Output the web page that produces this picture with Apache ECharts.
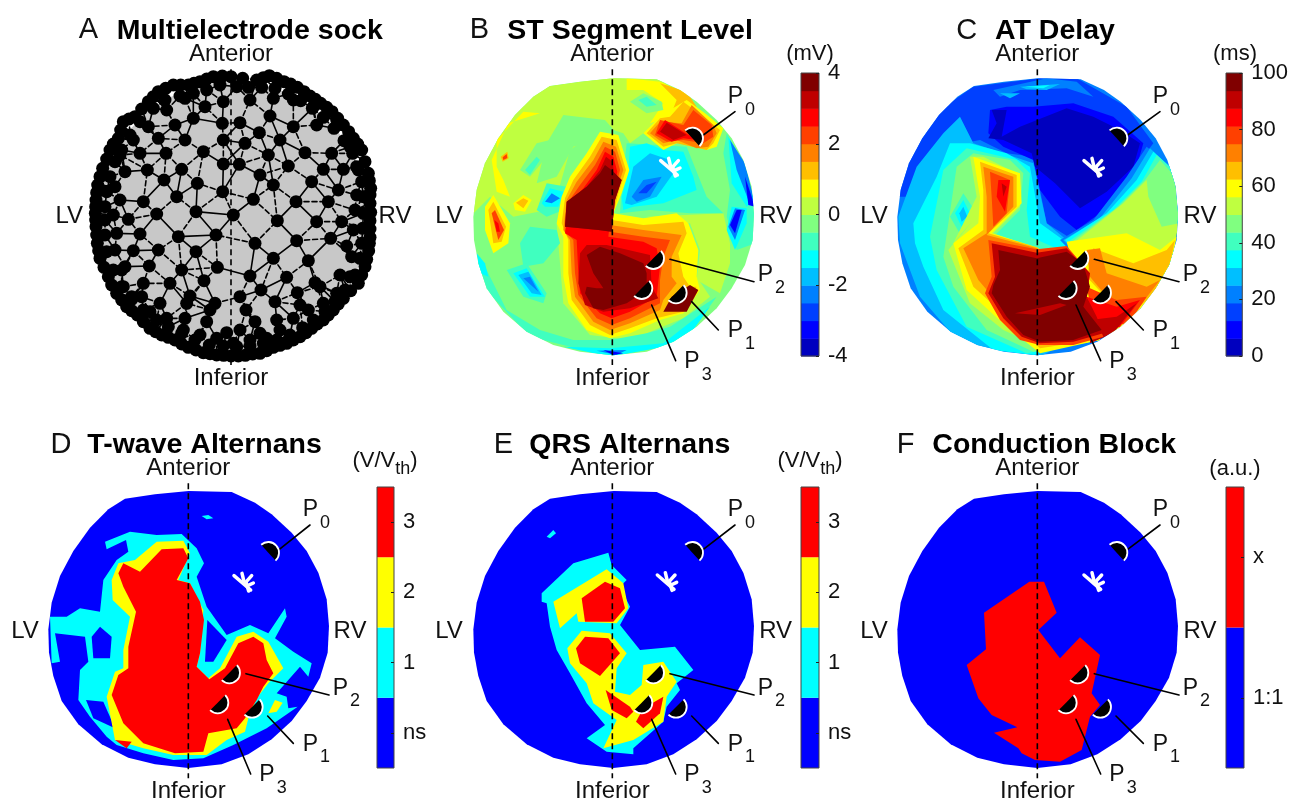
<!DOCTYPE html>
<html><head><meta charset="utf-8">
<style>html,body{margin:0;background:#fff}#c{width:1291px;height:802px}</style>
<script src="https://cdn.jsdelivr.net/npm/echarts@6/dist/echarts.min.js"></script></head>
<body><div id="c"></div>
<script>
// ---- colours ----
const jet16=['#0000bf','#0000ff','#0040ff','#0080ff','#00bfff','#00ffff','#40ffbf','#80ff80','#bfff40','#ffff00','#ffbf00','#ff8000','#ff4000','#ff0000','#bf0000','#800000'];
const altColours=['#0000ff','#00ffff','#ffff00','#ff0000'];
const blockColours=['#0000ff','#ff0000'];
// ---- colour bar scales ----
const stBands=[-4,-3.5,-3,-2.5,-2,-1.5,-1,-0.5,0,0.5,1,1.5,2,2.5,3,3.5,4];
const atBands=[0,6.25,12.5,18.75,25,31.25,37.5,43.75,50,56.25,62.5,68.75,75,81.25,87.5,93.75,100];
const altLabels=['ns','1','2','3'];
const blockLabels=['1:1','x'];
// ---- heart outline, map units of panel B ----
const rim=[551,205,680,208,750,240,800,275,860,330,905,385,940,450,965,530,972,610,968,690,945,765,905,835,860,895,800,950,730,995,650,1025,550,1036,450,1025,370,1005,290,965,220,905,170,835,145,760,132,690,130,620,140,540,165,460,205,385,255,315,310,260,360,228,450,215];
// ---- sock electrodes ----
const electrodes=[[520,615],[408,605],[468,675],[488,545],[580,568],[585,700],[355,680],[408,725],[472,772],[570,798],[640,745],[710,692],[652,632],[708,575],[640,525],[600,495],[538,463],[490,462],[412,520],[365,478],[350,560],[312,510],[290,612],[295,720],[240,672],[250,575],[205,628],[220,722],[268,768],[365,780],[432,812],[330,820],[250,820],[195,770],[390,858],[465,880],[540,860],[603,840],[680,802],[745,752],[770,635],[805,575],[845,635],[812,685],[860,708],[840,795],[765,818],[712,848],[645,875],[558,900],[500,968],[585,935],[440,935],[375,925],[300,880],[245,860],[190,830],[490,390],[430,425],[375,390],[318,430],[262,480],[195,485],[240,430],[295,385],[345,345],[400,325],[487,340],[540,338],[555,400],[625,435],[685,468],[735,428],[660,390],[598,368],[630,318],[700,350],[770,345],[790,478],[755,515],[815,430],[850,478],[835,540],[890,555],
[513,200],[460,200],[548,205],[590,210],[628,197],[672,215],[712,232],[750,258],[782,280],[816,305],[850,345],[880,385],[905,420],[925,490],[932,535],[930,580],[930,632],[930,682],[926,722],[915,770],[895,820],[850,865],[820,900],[790,930],[755,955],[720,980],[680,1000],[640,1012],[600,1030],[556,1036],[513,1038],[470,1035],[430,1028],[385,1012],[345,990],[305,975],[270,955],[232,915],[200,890],[170,850],[145,800],[120,745],[112,700],[108,650],[106,610],[108,570],[113,525],[128,475],[150,420],[175,385],[190,335],[225,320],[265,275],[295,245],[340,225],[385,225],[420,215],
[487,198],[610,203],[650,205],[692,222],[732,245],[766,268],[800,292],[833,325],[866,365],[893,402],[915,455],[928,512],[930,555],[932,607],[930,657],[928,700],[920,748],[905,795],[872,842],[835,882],[805,915],[772,942],[738,968],[700,990],[660,1006],[620,1022],[578,1032],[535,1038],[491,1036],[450,1031],[408,1020],[365,1002],[325,982],[287,965],[250,935],[215,902],[185,870],[155,825],[132,772],[116,722],[110,675],[107,630],[107,590],[110,548],[120,500],[140,447],[160,402],[182,360],[207,327],[245,297],[280,260],[317,235],[362,225],[402,220],[440,207],
[530,230],[565,232],[605,232],[645,235],[685,252],[722,272],[757,295],[790,322],[822,355],[852,392],[878,430],[895,480],[905,515],[910,560],[910,610],[908,655],[905,700],[900,745],[885,795],[855,840],[825,875],[795,905],[760,930],[728,953],[690,975],[650,990],[610,1000],[570,1008],[530,1010],[490,1008],[448,1005],[405,990],[365,970],[325,950],[290,930],[250,900],[215,868],[185,830],[160,780],[140,725],[135,675],[135,630],[135,590],[140,545],[150,500],[165,455],[185,420],[210,375],[240,335],[280,295],[315,270],[360,258],[400,250],[440,240],[480,225],
[490,275],[570,270],[435,290],[375,265],[320,300],[640,265],[700,270],[760,290],[830,330],[870,410],[180,435],[220,390],[265,350],[165,530],[180,570],[160,615],[170,670],[165,720],[185,780],[215,860],[890,470],[885,600],[880,660],[875,740],[870,800],[830,850],[790,880],[745,900],[700,925],[660,960],[620,985],[570,990],[520,1000],[470,985],[420,975],[370,960],[320,925],[270,905],[720,885],[650,930],[600,970],[540,960],[450,900],[380,880],[780,830]];
// ---- ST segment contours: [band, x,y,...] painted in order ----
const stContours=[
[7,0,0,1300,0,1300,1200,0,1200],
[8,120,480,240,300,340,230,560,200,700,210,760,300,700,340,640,370,600,400,580,370,520,350,420,420,380,560,350,600,250,620,180,560,120,620],
[7,400,315,525,330,560,370,430,410,380,500,320,520,350,400],
[8,650,620,880,610,900,700,900,760,870,850,800,810,810,720,780,640],
[8,380,640,400,880,480,975,600,990,760,925,840,860,800,800,600,700],
[7,270,480,320,400,360,390,350,440,300,500],[6,285,480,320,440,330,450,300,495],
[6,270,700,300,650,380,660,390,700,340,760,280,770],
[9,330,310,280,305,200,390,200,470,220,510,240,560,200,545,185,450,235,340],
[10,212,440,232,425,236,445,218,455],[12,218,442,230,432,232,444,220,450],
[9,165,590,190,555,240,640,235,700,190,730,165,660],[10,175,600,190,575,228,650,215,695,190,700],[12,185,610,195,600,222,660,205,690],[13,193,630,205,640,210,665,200,665],
[9,250,580,280,555,305,570,285,605,255,600],[10,258,578,280,565,295,572,280,595],
[6,320,600,350,520,410,530,400,600,350,620],[5,335,580,360,535,400,545,385,590,345,590],[3,345,575,365,550,390,565,365,580],
[6,590,400,770,410,830,560,880,610,780,610,660,600,570,610,575,540],
[5,600,410,650,400,700,420,760,425,790,500,800,540,700,580,610,590,580,600,575,560,595,490],
[4,610,470,660,430,720,450,730,490,680,560,605,585,585,580],
[3,605,560,640,510,695,500,660,560,620,575],[2,625,550,650,525,680,515,650,550],
[9,590,205,690,215,770,250,720,320,660,340,700,280,640,240,590,240],
[10,690,220,770,245,800,290,720,320,740,270],
[7,600,275,640,250,695,275,700,300,650,310],[6,625,270,650,260,680,285,650,290],
[9,640,370,690,320,720,300,770,270,825,310,880,355,860,410,830,420,760,390,700,420],
[10,650,370,690,325,720,320,760,275,820,320,870,360,850,400,830,420,740,400,700,410],
[11,660,370,690,335,755,340,785,285,850,345,860,370,835,410,800,415,740,390,700,400],
[12,675,375,690,330,760,345,790,300,845,345,850,380,820,400,760,390,710,395],
[13,680,370,705,330,760,365,800,390,760,385,725,395],[14,690,365,710,338,770,375,730,390],
[6,890,370,930,440,970,560,975,700,920,720,890,620,900,540,880,430],
[5,895,380,935,450,972,570,950,590,905,520],[3,900,390,945,460,972,570,955,570,920,480],[1,945,500,975,590,955,585],
[5,890,660,905,590,950,595,950,640,915,720],[3,895,650,915,595,945,600,915,690],[1,900,645,920,600,935,600,915,670],
[6,150,740,230,900,330,960,430,990,540,990,650,970,720,950,860,860,760,1000,540,1040,300,980,130,800],
[5,400,1010,540,1015,700,1000,840,890,760,1000,540,1040],[3,500,1022,590,1020,560,1035],[1,520,1020,580,1030,550,1035],
[5,140,730,165,760,175,800,150,790],
[6,230,780,290,760,350,850,340,880,280,860],[5,250,790,290,775,345,860,300,860],[4,265,795,295,785,335,855,305,850],[3,280,805,300,800,325,845],
[9,510,365,565,375,598,480,575,550,550,610,640,625,740,610,775,640,805,720,800,800,810,840,760,910,690,930,600,970,540,985,470,960,415,880,400,800,400,680,380,640,395,560,420,500,470,430],
[10,515,380,560,390,588,480,565,550,545,630,640,645,760,635,770,670,745,730,760,800,780,830,800,830,760,905,680,925,600,955,540,975,480,945,425,870,415,790,415,690,395,640,405,565,430,510,480,440],
[11,520,395,558,410,580,480,555,555,540,645,640,660,755,675,725,740,725,800,740,820,700,870,690,900,600,940,540,960,490,935,435,860,425,790,420,690,400,660,410,570,440,515,490,450],
[12,525,410,555,425,570,480,550,560,540,665,640,680,720,690,700,740,690,810,690,880,600,925,545,945,500,925,445,855,435,790,430,690,405,665,415,575,450,525,495,465],
[13,525,425,550,440,562,485,548,565,535,680,640,695,680,715,690,770,680,860,600,905,545,925,510,910,450,850,445,790,440,690,405,670,420,580,460,535,500,480],
[14,528,440,548,455,552,490,575,510,555,570,545,665,505,660,405,650,410,575,470,530,510,480],
[14,470,705,530,705,660,735,665,830,685,865,600,895,520,905,465,885,445,820,450,730],
[15,525,465,545,480,575,510,555,570,545,665,505,660,405,650,410,575,470,530,510,490],
[15,470,735,510,710,570,730,640,760,650,790,650,830,620,860,590,880,520,900,490,895,465,850,470,830,500,835,520,835,490,790],
[15,700,905,725,860,780,825,805,840,770,905]];
// ---- activation delay contours ----
const atContours=[
[3,0,0,1300,0,1300,1200,0,1200],
[2,110,560,150,440,240,300,340,230,540,205,650,205,800,290,880,400,700,640,640,690,560,640,520,440,440,430,360,390,310,400,240,450,170,560],
[3,400,240,560,205,650,215,700,260,620,235,480,240,420,260],[4,480,230,600,222,560,240,500,238],[5,495,230,570,225,550,235],[4,420,250,480,250,450,265],
[1,390,300,440,290,520,290,640,280,760,320,850,400,830,470,720,610,650,660,600,620,540,540,520,450,430,410,385,370],
[0,395,300,440,300,425,380,480,350,620,295,700,320,780,360,840,400,820,470,740,545,660,595,585,520,525,470,515,430,430,390,385,385,410,340],
[4,115,620,170,470,250,370,300,320,340,400,520,460,560,640,620,690,660,780,800,900,540,1040,300,1000,180,860,120,700],
[5,160,640,230,500,270,400,330,400,440,430,510,470,540,640,610,690,660,780,760,960,520,1035,400,1020,250,900,190,770,165,700],
[6,210,680,250,480,320,415,470,450,510,490,500,600,510,680,600,720,640,800,720,990,500,1030,320,950,230,780],
[7,265,640,290,470,340,430,450,450,490,490,480,600,400,680,530,720,660,800,720,990,520,1025,380,960,280,830,250,740],
[6,270,620,310,550,350,610,305,680],[5,285,610,310,570,335,620,305,650],[4,298,610,310,590,322,620,305,635],
[8,280,700,350,560,330,440,370,440,470,490,480,590,400,670,530,715,660,800,720,990,560,1020,430,960,330,880,265,720,340,630],
[9,340,440,480,490,485,580,395,670,530,712,660,800,720,990,540,1030,440,950,320,840,280,700,355,640,360,560],
[10,360,455,470,495,470,590,385,670,530,712,660,800,700,990,540,1015,450,930,340,830,295,715,370,660,370,540],
[11,370,470,460,500,460,590,380,675,530,715,660,800,700,980,540,1005,440,910,355,810,310,715,380,670,380,560],
[12,390,485,450,510,440,610,400,650,395,560],[13,415,510,450,510,435,605,410,560],[14,425,520,440,530,430,560],
[3,600,690,700,630,800,500,860,410,940,480,955,620,930,800,800,900],
[4,610,690,720,625,815,505,870,415,940,480,955,620,930,800,800,900],
[5,615,690,740,610,830,510,880,425,940,480,955,620,930,800,800,900],
[6,625,695,760,600,845,515,890,435,940,480,955,620,930,800,800,900],
[7,630,700,775,590,855,510,900,450,945,500,955,620,930,800,800,900],
[8,640,700,790,580,860,510,865,560,905,650,955,640,930,800,800,900],
[9,620,695,800,670,900,720,950,680,920,810,800,950,700,990],
[10,700,715,820,760,920,720,945,690,920,810,800,930,680,800],
[11,680,720,720,715,740,790,860,830,900,810,830,900,740,860,690,800],
[12,680,830,770,870,860,860,800,950,720,900,690,880],[13,680,860,770,890,840,870,780,950,700,980],[14,690,930,770,920,830,880,760,970,690,1000],
[12,385,690,530,718,620,708,690,790,680,860,730,980,640,1005,540,1005,480,990,420,930,375,850,395,800],
[14,395,700,530,728,620,715,690,790,680,860,710,920,730,970,640,995,540,1000,485,980,430,925,385,850,405,800],
[15,415,720,530,745,620,725,655,750,675,780,690,830,670,890,725,960,640,990,540,995,490,975,440,920,395,850,400,825,420,780],
[14,465,910,600,880,620,885,540,915]];
// ---- alternans and block regions ----
const twaContours=[
[0,0,0,1300,0,1300,1200,0,1200],
[1,605,288,625,285,640,295,620,298],
[1,315,365,390,335,470,345,545,342,590,385,612,430,590,470,620,560,680,645,750,615,805,640,855,565,860,590,825,655,880,695,935,730,925,770,900,740,865,780,830,820,860,830,865,865,893,860,800,925,700,975,610,1015,520,1020,430,1000,350,975,320,950,270,890,235,840,240,750,265,725,255,650,165,640,180,725,155,730,150,590,200,590,240,565,300,575,310,480,350,420,385,395,378,360,320,388],
[0,275,650,300,620,335,650,330,715,280,715],[0,258,840,310,845,345,925,280,895],[0,622,600,680,660,640,725,615,725],
[2,320,830,345,755,370,745,370,690,390,590,338,540,335,480,355,430,405,420,470,365,550,362,570,400,535,480,570,490,610,570,600,700,590,740,625,775,660,745,710,650,760,635,805,665,850,745,805,790,770,835,745,895,735,935,680,960,620,1005,520,1005,430,985,345,960],
[2,805,880,825,840,848,848,830,875],
[3,485,388,550,385,565,415,530,480,570,490,600,545,612,600,600,700,590,740,628,778,675,745,715,670,760,650,790,670,800,720,820,760,790,800,770,840,735,895,710,925,625,940,610,995,525,1000,430,970,370,910,335,825,355,765,385,745,385,680,408,575,370,500,355,460,370,430,420,455],
[3,345,960,395,965,380,985]];
const qrsContours=[
[0,0,0,1300,0,1300,1200,0,1200],
[1,350,350,370,330,378,340,360,355],
[1,335,520,430,430,535,398,545,435,590,480,570,500,600,560,570,615,630,690,735,680,790,750,740,790,750,810,710,860,700,905,610,985,610,1003,530,995,470,955,525,915,470,850,420,760,380,690,360,620,350,550,335,545],
[2,370,545,530,448,580,490,595,565,560,610,445,605,440,580,390,625],
[3,455,535,525,485,570,505,585,565,550,605,465,605],
[2,412,685,455,632,540,640,590,700,560,745,555,815,600,825,635,795,640,735,700,725,740,785,710,830,700,905,610,960,520,985,560,900,490,850,470,790,420,730],
[3,438,685,465,650,535,655,570,700,510,768,450,730],
[3,527,810,600,860,610,875,590,895,545,870],[3,618,905,640,865,700,830,690,880,640,925]];
const blockContours=[
[0,0,0,1300,0,1300,1200,0,1200],
[1,508,485,552,485,590,578,535,630,600,715,660,652,720,705,695,820,720,855,690,890,665,990,600,1025,525,1020,485,1000,475,985,402,938,472,922,395,885,355,835,320,735,378,688,372,578]];
// ---- pacing sites: centre and start angle in degrees ----
const sites=[[787,385,-132],[738,848,-45],[670,745,-45],[635,835,-45]];
const siteLabels=[['0',915,255],['1',915,958],['2',1005,790],['3',785,1050]];
const leaders=[[820,375,915,305],[785,875,865,960],[720,748,972,815],[665,885,737,1052]];
const asterisk=[[692,452,742,495],[716,445,722,470],[745,452,727,472],[750,474,733,482],[728,472,736,498]];

const FONT='"Liberation Sans",Arial,sans-serif', INK='#111';
const panels=[
 {crop:[60,10,350,390],letter:'A',lx:85,ly:60,title:'Multielectrode sock',tx:170,ty:62,line:[513,178,1065],ant:[513,132],inf:[513,1105],lv:[28,620],rv:[1005,620]},
 {crop:[430,10,430,390],letter:'B',lx:148,ly:60,title:'ST Segment Level',tx:232,ty:62,line:[547,178,1065],ant:[547,132],inf:[547,1105],lv:[57,620],rv:[1037,620],
  layers:stContours,pal:jet16,rimOff:[0,0],mk:[0,0],lb:[0,0],st:[0,0],unit:['(mV)',1140,133],bar:[801,73,18,283],bands:stBands},
 {crop:[860,10,431,390],letter:'C',lx:320,ly:63,title:'AT Delay',tx:405,ty:62,line:[532,178,1065],ant:[532,132],inf:[532,1105],lv:[42,620],rv:[1020,620],
  layers:atContours,pal:jet16,rimOff:[-18,0],mk:[-17,0],lb:[-15,0],st:[-20,0],unit:['(ms)',1125,133],bar:[1226,73,18,283],bands:atBands},
 {crop:[0,420,430,382],letter:'D',lx:183,ly:75,title:'T-wave Alternans',tx:262,ty:75,line:[565,190,1075],ant:[565,144],inf:[565,1113],lv:[75,633],rv:[1050,633],
  layers:twaContours,pal:altColours,rimOff:[15,8],mk:[18,13],lb:[15,10],st:[10,15],unit:['th',1155,123],bar:[377,487,17,281],cats:altLabels,catPal:altColours},
 {crop:[430,420,430,382],letter:'E',lx:220,ly:75,title:'QRS Alternans',tx:298,ty:75,line:[547,190,1075],ant:[547,144],inf:[547,1113],lv:[57,633],rv:[1037,633],
  layers:qrsContours,pal:altColours,rimOff:[0,8],mk:[0,13],lb:[0,10],st:[-10,13],unit:['th',1140,123],bar:[801,487,18,281],cats:altLabels,catPal:altColours},
 {crop:[860,420,431,382],letter:'F',lx:137,ly:75,title:'Conduction Block',tx:217,ty:75,line:[532,190,1075],ant:[532,144],inf:[532,1113],lv:[42,633],rv:[1020,633],
  layers:blockContours,pal:blockColours,rimOff:[-18,8],mk:[-17,13],lb:[-15,10],st:[-20,13],unit:['(a.u.)',1125,148],bar:[1226,487,18,281],cats:blockLabels,catPal:blockColours}
];

const grid=[],xAxis=[],yAxis=[],series=[];
function flatPts(api,f,dx,dy,start){const o=[];for(let i=start;i<f.length;i+=2)o.push(api.coord([f[i]+dx,f[i+1]+dy]));return o;}
function txt(api,x,y,text,size,opt){const p=api.coord([x,y]);return {type:'text',x:p[0],y:p[1],z2:50,style:Object.assign({text,fill:INK,font:size+'px '+FONT,textAlign:'center',textVerticalAlign:'middle'},opt||{})};}
function lineEl(api,a,b,width,color,dash){const p=api.coord(a),q=api.coord(b);return {type:'line',shape:{x1:p[0],y1:p[1],x2:q[0],y2:q[1]},style:{stroke:color,lineWidth:width,lineDash:dash||null,lineCap:'round'}};}

panels.forEach(P=>{
 const gi=grid.length;
 grid.push({left:P.crop[0],top:P.crop[1],width:P.crop[2],height:P.crop[3],show:false,containLabel:false});
 xAxis.push({gridIndex:gi,type:'value',min:0,max:P.crop[2]*3,show:false});
 yAxis.push({gridIndex:gi,type:'value',min:0,max:P.crop[3]*3,inverse:true,show:false});
 if(P.layers){
  series.push({type:'custom',xAxisIndex:gi,yAxisIndex:gi,silent:true,animation:false,clip:false,z:2,
   data:P.layers.map((l,i)=>[i,0]),
   renderItem(params,api){
    const l=P.layers[params.dataIndex];
    return {type:'polygon',shape:{points:flatPts(api,l,0,0,1)},style:{fill:P.pal[l[0]]},
     clipPath:{type:'polygon',shape:{points:flatPts(api,rim,P.rimOff[0],P.rimOff[1],0)}}};
   }});
 } else {
  // sock: grey ball, mesh links between nearest electrodes, electrodes
  const links=[],seen={};
  electrodes.forEach((e,i)=>{
   electrodes.map((f,j)=>[Math.hypot(e[0]-f[0],e[1]-f[1]),j]).filter(d=>d[1]!==i).sort((a,b)=>a[0]-b[0]).slice(0,5).forEach(d=>{
    const k=Math.min(i,d[1])+'_'+Math.max(i,d[1]);
    if(!seen[k]){seen[k]=1;links.push([i,d[1]]);}
   });
  });
  series.push({type:'custom',xAxisIndex:gi,yAxisIndex:gi,silent:true,animation:false,clip:false,z:2,data:[[0,0]],
   renderItem(params,api){
    const c=api.coord([519,620]),e=api.coord([519+405,620]);
    const kids=[{type:'circle',shape:{cx:c[0],cy:c[1],r:e[0]-c[0]},style:{fill:'#c8c8c8'}}];
    links.forEach((l,i)=>kids.push(lineEl(api,electrodes[l[0]],electrodes[l[1]],1.6,'#000',i%2?[5,3]:null)));
    return {type:'group',children:kids};
   }});
 }
 // dashed midline
 series.push({type:'line',xAxisIndex:gi,yAxisIndex:gi,silent:true,animation:false,symbol:'none',z:3,clip:false,
  data:[[P.line[0],P.line[1]],[P.line[0],P.line[2]]],lineStyle:{color:'#000',width:1.6,type:[6,4]}});
 if(!P.layers){
  series.push({type:'scatter',xAxisIndex:gi,yAxisIndex:gi,silent:true,animation:false,z:4,clip:false,symbolSize:13,
   itemStyle:{color:'#000',opacity:1},data:electrodes});
 }
 // annotations
 series.push({type:'custom',xAxisIndex:gi,yAxisIndex:gi,silent:true,animation:false,clip:false,z:6,data:[[0,0]],
  renderItem(params,api){
   const kids=[];
   kids.push(txt(api,P.lx,P.ly,P.letter,29));
   kids.push(txt(api,P.tx,P.ty,P.title,28.5,{font:'bold 28.5px '+FONT,textAlign:'left',fill:'#000'}));
   kids.push(txt(api,P.ant[0],P.ant[1],'Anterior',24));
   kids.push(txt(api,P.inf[0],P.inf[1],'Inferior',24));
   kids.push(txt(api,P.lv[0],P.lv[1],'LV',24));
   kids.push(txt(api,P.rv[0],P.rv[1],'RV',24));
   if(P.layers){
    const m=P.mk,L=P.lb,S=P.st;
    leaders.forEach(l=>kids.push(lineEl(api,[l[0]+m[0],l[1]+m[1]],[l[2]+L[0],l[3]+L[1]],1.6,'#000')));
    sites.forEach(s=>{
     const c=api.coord([s[0]+m[0],s[1]+m[1]]),r=api.coord([s[0]+m[0]+32,s[1]+m[1]])[0]-c[0];
     const a0=s[2]*Math.PI/180,a1=a0+Math.PI;
     kids.push({type:'sector',shape:{cx:c[0],cy:c[1],r0:0,r:r,startAngle:a0,endAngle:a1,clockwise:true},style:{fill:'#000'}});
     kids.push({type:'arc',shape:{cx:c[0],cy:c[1],r:r,startAngle:a0,endAngle:a1,clockwise:true},style:{stroke:'#fff',lineWidth:1.8,fill:null}});
    });
    asterisk.forEach(a=>kids.push(lineEl(api,[a[0]+S[0],a[1]+S[1]],[a[2]+S[0],a[3]+S[1]],3.5,'#fff')));
    siteLabels.forEach(s=>{
     kids.push(txt(api,s[1]+L[0]-22,s[2]+L[1]+5,'{p|P}{s|'+s[0]+'}',22,{textAlign:'left',
      rich:{p:{font:'23px '+FONT,fill:INK},s:{font:'18px '+FONT,fill:INK,padding:[26,0,0,2]}}}));
    });
    const u=P.unit;
    if(u[0]==='th'){
     kids.push(txt(api,u[1],u[2],'{a|(V/V}{s|th}{a|)}',22,{
      rich:{a:{font:'22px '+FONT,fill:INK},s:{font:'18px '+FONT,fill:INK,padding:[16,0,0,0]}}}));
    } else kids.push(txt(api,u[1],u[2],u[0],22));
   }
   return {type:'group',children:kids};
  }});
 // colour bar
 if(P.bar){
  const g=grid.length,b=P.bar;
  grid.push({left:b[0],top:b[1],width:b[2],height:b[3],show:true,borderColor:'#444',borderWidth:1,backgroundColor:'transparent',z:8});
  const axisLabel={fontFamily:'"Liberation Sans",Arial,sans-serif',fontSize:22,color:INK,margin:9,padding:[6,0,0,0]};
  if(P.bands){
   const lo=P.bands[0],hi=P.bands[16];
   xAxis.push({gridIndex:g,type:'value',min:0,max:1,show:false});
   yAxis.push({gridIndex:g,type:'value',min:lo,max:hi,interval:(hi-lo)/(hi===100?5:4),position:'right',z:9,
    axisLine:{show:false,onZero:false},splitLine:{show:false},axisTick:{show:true,inside:true,length:3,lineStyle:{color:'#222'}},axisLabel});
   series.push({type:'custom',xAxisIndex:g,yAxisIndex:g,silent:true,animation:false,z:7,
    data:jet16.map((c,i)=>[0,P.bands[i],P.bands[i+1]]),encode:{x:0,y:[1,2]},
    renderItem(params,api){
     const a=api.coord([0,api.value(1)]),c=api.coord([1,api.value(2)]);
     return {type:'rect',shape:{x:a[0],y:c[1],width:c[0]-a[0],height:a[1]-c[1]+0.5},style:{fill:jet16[params.dataIndex]}};
    }});
  } else {
   xAxis.push({gridIndex:g,type:'value',min:0,max:1,show:false});
   yAxis.push({gridIndex:g,type:'category',data:P.cats,position:'right',z:9,
    axisLine:{show:false,onZero:false},splitLine:{show:false},axisTick:{show:true,inside:true,alignWithLabel:true,length:3,lineStyle:{color:'#222'}},axisLabel});
   series.push({type:'bar',xAxisIndex:g,yAxisIndex:g,silent:true,animation:false,barWidth:'100%',z:7,
    data:P.cats.map((c,i)=>({value:1,itemStyle:{color:P.catPal[i]}}))});
  }
 }
});
const chart=echarts.init(document.getElementById('c'),null,{renderer:'canvas'});
chart.setOption({animation:false,backgroundColor:'#fff',tooltip:{show:false},grid,xAxis,yAxis,series});
</script></body></html>
